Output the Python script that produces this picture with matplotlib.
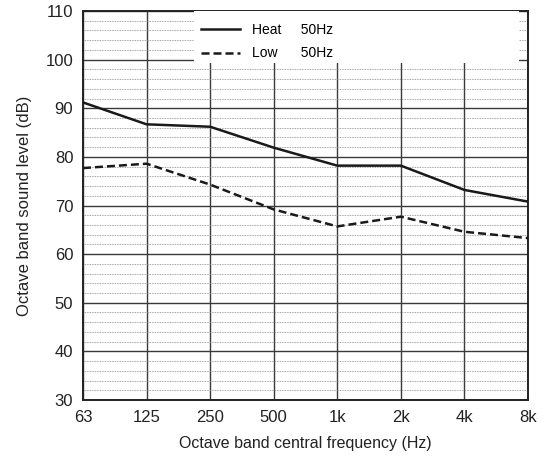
import matplotlib
matplotlib.use("Agg")
import matplotlib.pyplot as plt
from matplotlib.patches import Rectangle
from matplotlib.ticker import MultipleLocator

plt.rcParams["font.family"] = ["Liberation Sans", "DejaVu Sans"]

# octave band centre frequencies and measured levels (dB)
bands = ["63", "125", "250", "500", "1k", "2k", "4k", "8k"]
heat_50hz = [91.2, 86.7, 86.2, 81.9, 78.2, 78.2, 73.2, 70.8]
low_50hz = [77.7, 78.6, 74.3, 69.2, 65.7, 67.7, 64.6, 63.3]

fig = plt.figure(figsize=(5.45, 4.61), dpi=100)
ax = fig.add_axes([0.1523, 0.1323, 0.8165, 0.8438])

x = list(range(len(bands)))
ax.plot(x, heat_50hz, color="#1a1a1a", lw=1.8, ls="-", label="Heat     50Hz", zorder=5)
ax.plot(x, low_50hz, color="#1a1a1a", lw=1.8, ls=(0, (3.2, 1.6)), label="Low      50Hz", zorder=5)

ax.set_xlim(0, len(bands) - 1)
ax.set_ylim(30, 110)
ax.set_xticks(x)
ax.set_xticklabels(bands)
ax.yaxis.set_major_locator(MultipleLocator(10))
ax.yaxis.set_minor_locator(MultipleLocator(2))

# grid: solid major lines, dotted minor lines
ax.grid(True, which="major", axis="both", color="#3a3a3a", lw=1.0, zorder=1)
ax.grid(True, which="minor", axis="y", color="#888888", lw=0.6, ls=(0, (1, 1)), zorder=1)
ax.set_axisbelow(True)

ax.tick_params(axis="both", which="both", length=0, labelsize=12, colors="#222222")
ax.tick_params(axis="x", pad=7)
ax.tick_params(axis="y", pad=7)
for s in ax.spines.values():
    s.set_color("#222222")
    s.set_linewidth(1.4)

ax.set_xlabel("Octave band central frequency (Hz)", fontsize=11.5, color="#222222", labelpad=8)
ax.set_ylabel("Octave band sound level (dB)", fontsize=12, color="#222222", labelpad=10)

# white block behind the legend hides the grid
ax.add_patch(Rectangle((0.249, 0.866), 0.731, 0.134, transform=ax.transAxes,
                       facecolor="white", edgecolor="none", zorder=3))
leg = ax.legend(loc="upper left", bbox_to_anchor=(0.236, 1.002), frameon=False,
                fontsize=10, handlelength=2.85, handletextpad=0.85, labelspacing=0.7)
leg.set_zorder(6)

fig.savefig("out.png", dpi=100)
